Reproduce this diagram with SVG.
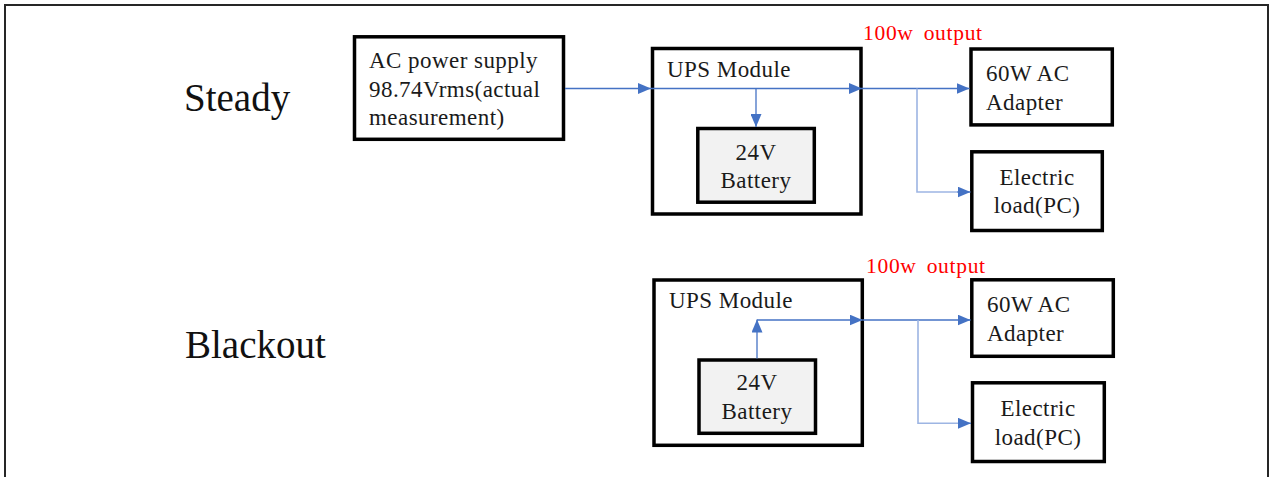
<svg xmlns="http://www.w3.org/2000/svg" width="1272" height="477" viewBox="0 0 1272 477">
  <style>
    .box { fill: #ffffff; stroke: #000000; stroke-width: 3.5; }
    .bat { fill: #f2f2f2; stroke: #000000; stroke-width: 3.5; }
    .t { font-family: 'Liberation Serif', 'DejaVu Serif', serif; font-size: 23px; fill: #1a1a1a; letter-spacing: 0.45px; }
    .c { text-anchor: middle; }
    .big { font-family: 'Liberation Serif', 'DejaVu Serif', serif; font-size: 39px; fill: #111111; }
    .red { font-family: 'Liberation Serif', 'DejaVu Serif', serif; font-size: 21.5px; fill: #ff0000; word-spacing: 4px; letter-spacing: 0.7px; }
    .ln { fill: none; stroke: #4472c4; stroke-width: 1.3; }
    .lt { fill: none; stroke: #9db5e3; stroke-width: 1.6; }
  </style>
  <defs>
    <marker id="ah" markerUnits="userSpaceOnUse" markerWidth="13" markerHeight="11" refX="13" refY="5.5" orient="auto">
      <path d="M0,0 L13,5.5 L0,11 z" fill="#4472c4"/>
    </marker>
  </defs>
  <rect width="1272" height="477" fill="#ffffff"/>
  <rect x="5" y="5" width="1263" height="480" fill="none" stroke="#262626" stroke-width="2"/>

  <g id="label-steady"><text class="big" x="184" y="111">Steady</text></g>
  <g id="label-blackout"><text class="big" x="185" y="357.5">Blackout</text></g>

  <g id="ac-supply">
    <rect class="box" x="354.5" y="36.8" width="209" height="102.5"/>
    <text class="t" x="369" y="67.7">AC power supply</text>
    <text class="t" x="369" y="96.7">98.74Vrms(actual</text>
    <text class="t" x="369" y="125">measurement)</text>
  </g>

  <g id="ups-steady">
    <rect class="box" x="652.5" y="48.5" width="208.5" height="165.5"/>
    <text class="t" x="667" y="77">UPS Module</text>
  </g>
  <g id="battery-steady">
    <rect class="bat" x="697.8" y="128.5" width="116.5" height="73.7"/>
    <text class="t c" x="756" y="160">24V</text>
    <text class="t c" x="756" y="188">Battery</text>
  </g>
  <g id="output-steady"><text class="red" x="863" y="40">100w output</text></g>
  <g id="adapter-steady">
    <rect class="box" x="971" y="49" width="141.3" height="75.9"/>
    <text class="t" x="986" y="80.7">60W AC</text>
    <text class="t" x="986" y="110">Adapter</text>
  </g>
  <g id="load-steady">
    <rect class="box" x="971.8" y="151.8" width="130.5" height="78.7"/>
    <text class="t c" x="1037" y="184.7">Electric</text>
    <text class="t c" x="1037" y="213.3">load(PC)</text>
  </g>

  <g id="ups-blackout">
    <rect class="box" x="654" y="280" width="208.3" height="165.3"/>
    <text class="t" x="669" y="308">UPS Module</text>
  </g>
  <g id="battery-blackout">
    <rect class="bat" x="699" y="360" width="116.5" height="73.3"/>
    <text class="t c" x="757" y="390">24V</text>
    <text class="t c" x="757" y="419">Battery</text>
  </g>
  <g id="output-blackout"><text class="red" x="866" y="272.7">100w output</text></g>
  <g id="adapter-blackout">
    <rect class="box" x="971.8" y="279.8" width="141.5" height="76.5"/>
    <text class="t" x="987" y="311.7">60W AC</text>
    <text class="t" x="987" y="340.7">Adapter</text>
  </g>
  <g id="load-blackout">
    <rect class="box" x="972.5" y="382.8" width="131.8" height="78.7"/>
    <text class="t c" x="1038" y="415.7">Electric</text>
    <text class="t c" x="1038" y="445">load(PC)</text>
  </g>

  <g id="connectors">
    <path class="ln" d="M565,88.5 H651" marker-end="url(#ah)"/>
    <path class="ln" d="M651,88.5 H862" marker-end="url(#ah)"/>
    <path class="ln" d="M756,88.5 V127" marker-end="url(#ah)"/>
    <path class="ln" d="M862,88.5 H969.5" marker-end="url(#ah)"/>
    <path class="lt" d="M917,88.5 V192 H957"/>
    <path class="ln" d="M957,192 H970.5" marker-end="url(#ah)"/>

    <path class="ln" d="M757,358.5 V319.5" marker-end="url(#ah)"/>
    <path class="ln" d="M757,320 H862.5" marker-end="url(#ah)"/>
    <path class="ln" d="M862.5,320 H970.5" marker-end="url(#ah)"/>
    <path class="lt" d="M918,320 V423.3 H958"/>
    <path class="ln" d="M958,423.3 H971" marker-end="url(#ah)"/>
  </g>
</svg>
